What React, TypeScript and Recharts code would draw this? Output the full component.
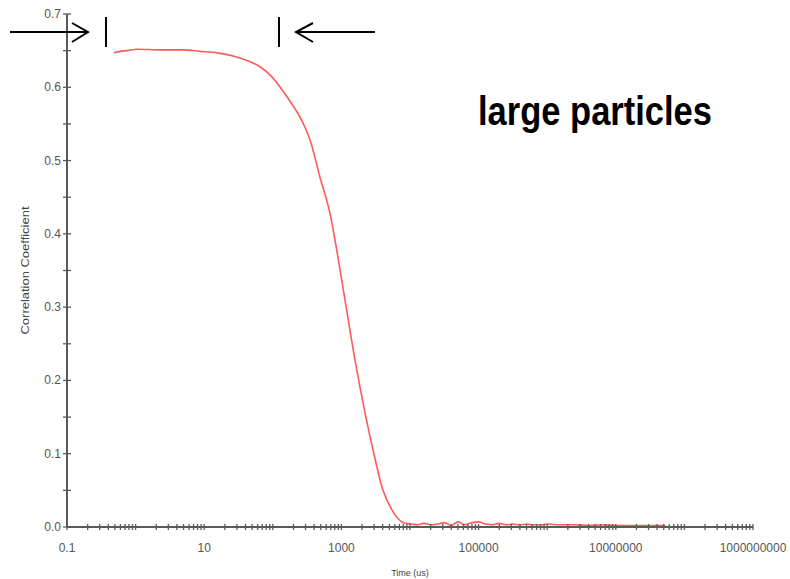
import React from "react";
import { LineChart, Line, XAxis, YAxis, Label } from "recharts";

// correlation function
const timeUs = [
  0.48, 0.6, 0.75, 1.05, 2.27, 4.9, 8.7, 15.4, 33, 65, 91, 161, 276, 349, 488,
  682, 892, 1128, 1578, 2207, 2890, 4040, 5470, 8460, 10500, 13000, 16000,
  20000, 25000, 32000, 40000, 50000, 63000, 80000, 100000, 126000, 160000,
  200000, 250000, 320000, 400000, 500000, 630000, 800000, 1000000, 1600000,
  2500000, 4000000, 6300000, 10000000, 16000000, 25000000, 40000000, 53000000,
];
const correlation = [
  0.647, 0.649, 0.65, 0.652, 0.651, 0.651, 0.649, 0.647, 0.64, 0.628, 0.617,
  0.587, 0.551, 0.528, 0.477, 0.428, 0.368, 0.31, 0.228, 0.156, 0.105, 0.05,
  0.023, 0.005, 0.004, 0.003, 0.005, 0.003, 0.004, 0.006, 0.002, 0.007, 0.003,
  0.006, 0.007, 0.004, 0.003, 0.005, 0.003, 0.004, 0.003, 0.004, 0.003, 0.003,
  0.004, 0.003, 0.003, 0.002, 0.003, 0.002, 0.002, 0.002, 0.002, 0.002,
];

const xDecades = [0.1, 1, 10, 100, 1000, 10000, 100000, 1000000, 10000000, 100000000];
const xMultiples = [1, 2, 3, 4, 5, 6, 7, 8, 9];
const xLabelTicks = [0.1, 10, 1000, 100000, 10000000, 1000000000];
const xTickLabels = ["0.1", "10", "1000", "100000", "10000000", "1000000000"];

const yTicks = [0, 0.05, 0.1, 0.15, 0.2, 0.25, 0.3, 0.35, 0.4, 0.45, 0.5, 0.55, 0.6, 0.65, 0.7];
const yLabelTicks = [0, 0.1, 0.2, 0.3, 0.4, 0.5, 0.6, 0.7];
const yTickLabels = ["0.0", "0.1", "0.2", "0.3", "0.4", "0.5", "0.6", "0.7"];

const data = timeUs.map((t, i) => ({ t, r: correlation[i] }));
const xTicks = [...xDecades.flatMap((d) => xMultiples.map((m) => m * d)), 1000000000];

const FONT = "'Liberation Sans', Arial, sans-serif";
const AXIS = "#5a5a5a";
const TEXT = "#555";

const sameVal = (a: number, b: number) => Math.abs(a - b) <= Math.abs(b) * 1e-6 + 1e-9;

const XTick = (props: any) => {
  const { x, y, payload } = props;
  const idx = xLabelTicks.findIndex((v) => sameVal(payload.value, v));
  return (
    <g>
      <line x1={x} x2={x} y1={y - 3} y2={y + 3} stroke={AXIS} strokeWidth={1.3} />
      {idx >= 0 && (
        <text x={x} y={y + 25} textAnchor="middle" fontSize={12} fill={TEXT} fontFamily={FONT}>
          {xTickLabels[idx]}
        </text>
      )}
    </g>
  );
};

const YTick = (props: any) => {
  const { x, y, payload } = props;
  const idx = yLabelTicks.findIndex((v) => sameVal(payload.value, v));
  return (
    <g>
      <line x1={x - 4} x2={x + 4} y1={y} y2={y} stroke={AXIS} strokeWidth={1.3} />
      {idx >= 0 && (
        <text x={x - 6} y={y + 4} textAnchor="end" fontSize={12} fill={TEXT} fontFamily={FONT}>
          {yTickLabels[idx]}
        </text>
      )}
    </g>
  );
};

const App = () => {
  return (
    <div style={{ position: "absolute", left: 0, top: 0, width: 790, height: 579, background: "#fff" }}>
      <LineChart width={790} height={579} data={data} margin={{ top: 14, right: 37, bottom: 0, left: 0 }}>
        <XAxis
          dataKey="t"
          type="number"
          scale="log"
          domain={[0.1, 1000000000]}
          ticks={xTicks}
          interval={0}
          tick={<XTick />}
          tickLine={false}
          tickSize={0}
          tickMargin={0}
          height={52}
          axisLine={{ stroke: AXIS, strokeWidth: 2 }}
          allowDataOverflow
        >
          <Label
            content={(p: any) => {
              const vb = p.viewBox;
              return (
                <text x={vb.x + vb.width / 2} y={vb.y + 49} textAnchor="middle" fontSize={9} fill="#444" fontFamily={FONT}>
                  Time (us)
                </text>
              );
            }}
          />
        </XAxis>
        <YAxis
          type="number"
          domain={[0, 0.7]}
          ticks={yTicks}
          interval={0}
          tick={<YTick />}
          tickLine={false}
          tickSize={0}
          tickMargin={0}
          width={67}
          axisLine={{ stroke: AXIS, strokeWidth: 2 }}
        >
          <Label
            content={(p: any) => {
              const vb = p.viewBox;
              const cx = vb.x + 29;
              const cy = vb.y + vb.height / 2;
              return (
                <text
                  x={cx}
                  y={cy}
                  transform={`rotate(-90, ${cx}, ${cy})`}
                  textAnchor="middle"
                  fontSize={10}
                  fill="#444"
                  fontFamily={FONT}
                  textLength={128}
                  lengthAdjust="spacingAndGlyphs"
                >
                  Correlation Coefficient
                </text>
              );
            }}
          />
        </YAxis>
        <Line
          type="monotone"
          dataKey="r"
          stroke="#ff5a5a"
          strokeWidth={1.6}
          dot={false}
          isAnimationActive={false}
        />
      </LineChart>
      <svg
        width={790}
        height={579}
        style={{ position: "absolute", left: 0, top: 0, pointerEvents: "none" }}
      >
        <g stroke="#000" strokeWidth={2} fill="none">
          <line x1={10} y1={32} x2={88} y2={32} />
          <polyline points="72,23 88,32 72,42" />
          <line x1={106} y1={17} x2={106} y2={47} />
          <line x1={279} y1={17} x2={279} y2={47} />
          <line x1={296} y1={32} x2={375} y2={32} />
          <polyline points="313,23 296,32 313,42" />
        </g>
        <text
          x={478}
          y={125}
          fontSize={41}
          fontWeight="bold"
          fontFamily={FONT}
          textLength={234}
          lengthAdjust="spacingAndGlyphs"
          fill="#000"
        >
          large particles
        </text>
      </svg>
    </div>
  );
};

export default App;
